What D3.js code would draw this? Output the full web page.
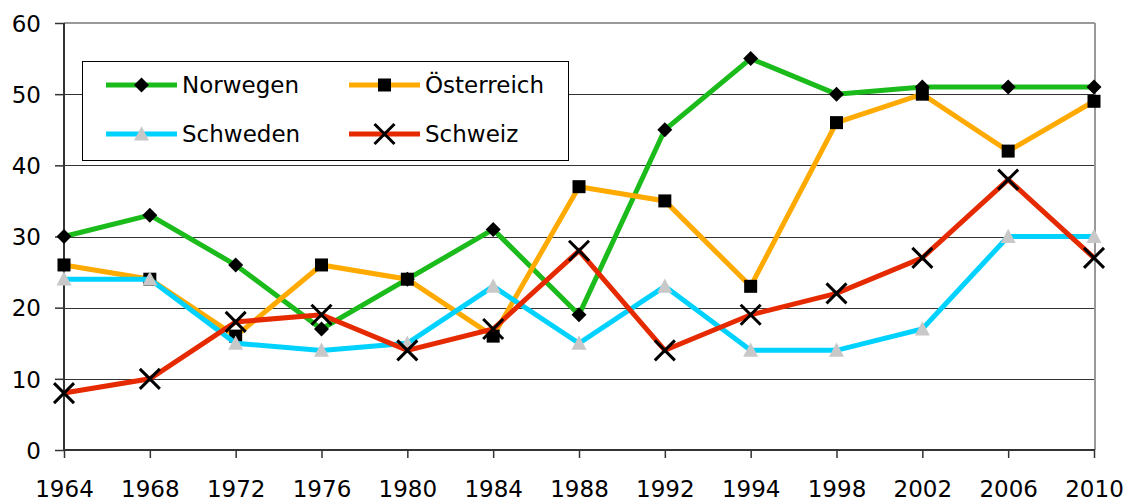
<!DOCTYPE html>
<html><head><meta charset="utf-8">
<script src="https://cdn.jsdelivr.net/npm/d3@7"></script>
<style>body{margin:0;background:#fff}svg{display:block}text{font-family:"DejaVu Sans",sans-serif;fill:#000}</style>
</head><body>
<svg id="c" width="1132" height="502"></svg>
<script>
const years = ["1964","1968","1972","1976","1980","1984","1988","1992","1994","1998","2002","2006","2010"];
const norwegen   = [30,33,26,17,24,31,19,45,55,50,51,51,51];
const oesterreich= [26,24,16,26,24,16,37,35,23,46,50,42,49];
const schweden   = [24,24,15,14,15,23,15,23,14,14,17,30,30];
const schweiz    = [8,10,18,19,14,17,28,14,19,22,27,38,27];
const yTicks = [0,10,20,30,40,50,60];
const seriesNames = ["Norwegen","Österreich","Schweden","Schweiz"];

const series = [
  {name:seriesNames[0], values:norwegen, color:"#1bbb1b", marker:"diamond"},
  {name:seriesNames[1], values:oesterreich, color:"#ffaa00", marker:"square"},
  {name:seriesNames[2], values:schweden, color:"#00d2ff", marker:"triangle"},
  {name:seriesNames[3], values:schweiz, color:"#e62a00", marker:"x"}
];

const svg = d3.select("#c");
const L=64, R=1094, T=23, B=450;
const x = d3.scalePoint().domain(years).range([L,R]);
const y = d3.scaleLinear().domain([0,60]).range([B,T]);

// gridlines
svg.append("g").selectAll("line").data(yTicks.filter(d=>d>0&&d<60)).join("line")
  .attr("x1",L).attr("x2",R).attr("y1",d=>Math.round(y(d))+0.5).attr("y2",d=>Math.round(y(d))+0.5)
  .attr("stroke","#333").attr("stroke-width",1);
// top & right border
svg.append("line").attr("x1",L).attr("x2",R+1).attr("y1",T).attr("y2",T).attr("stroke","#999").attr("stroke-width",2);
svg.append("line").attr("x1",R+1).attr("x2",R+1).attr("y1",T).attr("y2",B).attr("stroke","#999").attr("stroke-width",2);

// y axis
const yAxis = d3.axisLeft(y).tickValues(yTicks).tickSize(9).tickPadding(14);
const gy = svg.append("g").attr("transform",`translate(${L},0)`).call(yAxis);
gy.select(".domain").attr("stroke","#333").attr("stroke-width",2).attr("d",`M0,${T}V${B}`);
gy.selectAll(".tick line").attr("stroke","#333").attr("stroke-width",1.5);
gy.selectAll(".tick text").style("font-size","23px").attr("font-family","DejaVu Sans").attr("fill","#000").attr("dy","0.36em");

// x axis
const xAxis = d3.axisBottom(x).tickSize(8).tickPadding(23);
const gx = svg.append("g").attr("transform",`translate(0,${B})`).call(xAxis);
gx.select(".domain").attr("stroke","#333").attr("stroke-width",2).attr("d",`M${L},0H${R+1}`);
gx.selectAll(".tick line").attr("stroke","#333").attr("stroke-width",1.5);
gx.selectAll(".tick text").style("font-size","23px").attr("font-family","DejaVu Sans").attr("fill","#000").attr("dy","0.71em");

function drawMarker(g, type, cx, cy, scale){
  const s = scale||1;
  if(type==="diamond"){
    const r=7.5*s;
    g.append("path").attr("d",`M${cx},${cy-r}L${cx+r},${cy}L${cx},${cy+r}L${cx-r},${cy}Z`).attr("fill","#000");
  } else if(type==="square"){
    const r=6.5*s;
    g.append("rect").attr("x",cx-r).attr("y",cy-r).attr("width",2*r).attr("height",2*r).attr("fill","#000");
  } else if(type==="triangle"){
    const r=7.5*s;
    g.append("path").attr("d",`M${cx},${cy-r*1.05}L${cx+r},${cy+r*0.85}L${cx-r},${cy+r*0.85}Z`).attr("fill","#c8c8c8");
  } else if(type==="x"){
    const r=10*s;
    g.append("path").attr("d",`M${cx-r},${cy-r}L${cx+r},${cy+r}M${cx-r},${cy+r}L${cx+r},${cy-r}`)
      .attr("stroke","#000").attr("stroke-width",3).attr("fill","none");
  }
}

const line = d3.line().x((d,i)=>x(years[i])).y(d=>y(d));
series.forEach(s=>{
  const g = svg.append("g");
  g.append("path").attr("d",line(s.values)).attr("fill","none").attr("stroke",s.color)
    .attr("stroke-width",5).attr("stroke-linejoin","miter");
  s.values.forEach((v,i)=>drawMarker(g,s.marker,x(years[i]),y(v)));
});

// legend
const lg = svg.append("g");
lg.append("rect").attr("x",82.5).attr("y",61.5).attr("width",486).attr("height",99).attr("fill","#fff").attr("stroke","#000").attr("stroke-width",1);
const pos = [[106,85],[349,85],[106,134],[349,134]];
series.forEach((s,i)=>{
  const [lx,ly]=pos[i];
  lg.append("line").attr("x1",lx).attr("x2",lx+71).attr("y1",ly).attr("y2",ly).attr("stroke",s.color).attr("stroke-width",5);
  drawMarker(lg,s.marker,lx+35.5,ly);
  lg.append("text").attr("x",lx+76).attr("y",ly).attr("dy","0.36em").style("font-size","23px").text(s.name);
});
</script>
</body></html>
